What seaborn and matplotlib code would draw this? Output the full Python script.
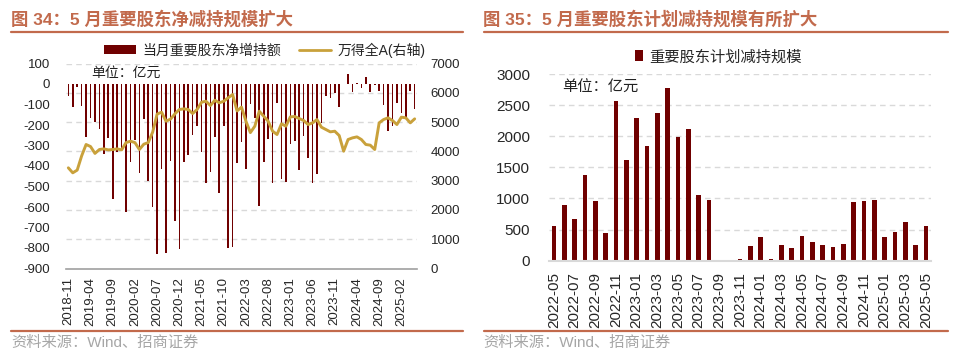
import numpy as np
import pandas as pd
import matplotlib
matplotlib.use("Agg")
import matplotlib.pyplot as plt
import seaborn as sns
from matplotlib.patches import Patch
from matplotlib.lines import Line2D

sns.set_theme(style="white")
plt.rcParams['font.family'] = ['Liberation Sans', 'Noto Sans CJK SC']
plt.rcParams['axes.unicode_minus'] = False

# ---------------- data ----------------
left_months = list(pd.period_range('2018-11', '2025-05', freq='M').strftime('%Y-%m'))
net_change = [-57, -110, -13, -107, -260, -167, -183, -220, -340, -264,
              -560, -333, -329, -625, -380, -272, -434, -170, -474, -599,
              -830, -417, -822, -374, -666, -806, -382, -348, -251, -203,
              -330, -485, -430, -259, -531, -207, -802, -797, -385, -285,
              -414, -98, -167, -595, -382, -269, -482, -91, -465, -479,
              -292, -280, -421, -252, -363, -482, -441, -191, -57, -70,
              -45, -110, -2, 47, -38, 4, -18, 33, -38, -4,
              -36, -100, -231, -207, -94, -142, -170, -35, -123]
wind_a = [3438, 3267, 3360, 3845, 4234, 4165, 3930, 4063, 4086, 4050,
          4063, 4086, 4050, 4300, 4347, 4300, 4063, 4245, 4300, 4660,
          5275, 5337, 5030, 5100, 5280, 5429, 5452, 5429, 5292, 5429,
          5678, 5712, 5565, 5746, 5657, 5712, 5828, 5941, 5380, 5510,
          5030, 4640, 4860, 5370, 5200, 5030, 4690, 4575, 4939, 4860,
          5178, 5190, 5120, 5053, 4916, 4973, 5087, 4825, 4746, 4666,
          4688, 4541, 4006, 4404, 4461, 4495, 4404, 4234, 4211, 4063,
          4973, 5087, 5145, 5053, 4916, 5167, 5145, 4973, 5110]
left_tick_labels = ['2018-11', '2019-04', '2019-09', '2020-02', '2020-07', '2020-12',
                    '2021-05', '2021-10', '2022-03', '2022-08', '2023-01', '2023-06',
                    '2023-11', '2024-04', '2024-09', '2025-02']

right_months = list(pd.period_range('2022-05', '2025-05', freq='M').strftime('%Y-%m'))
plan_reduce = [559, 898, 667, 1376, 952, 446, 2559, 1624, 2296, 1839,
               2366, 2780, 1989, 2118, 1059, 970, 10, 0, 35, 240,
               387, 25, 247, 199, 398, 306, 247, 215, 269, 946,
               962, 978, 382, 462, 629, 247, 559]
right_tick_labels = right_months[::2]

# ---------------- style ----------------
W, H = 959, 359
BAR = '#700000'
GOLD = '#C9A13B'
ACCENT = '#C26A4C'
GRID = '#D9D9D9'
SRC = '#A6A6A6'

fig = plt.figure(figsize=(W / 100, H / 100), dpi=100)
fig.patch.set_facecolor('white')

def fx(px):
    return px / W

def fy(py):
    return 1 - py / H

def box(x0, y0, x1, y1):
    return [fx(x0), fy(y1), (x1 - x0) / W, (y1 - y0) / H]

# ---------------- left panel ----------------
ax = fig.add_axes(box(66.1, 63.5, 416.9, 268.5))
ax.set_facecolor('none')
df_l = pd.DataFrame({'month': left_months, 'value': net_change})
sns.barplot(data=df_l, x='month', y='value', ax=ax, color=BAR, saturation=1,
            width=0.36, order=left_months, zorder=2, linewidth=0, edgecolor='none')
ax.set_xlim(-0.5, len(left_months) - 0.5)
ax.set_ylim(-900, 100)
ax.set_yticks(range(-900, 101, 100))
ax.set_xlabel('')
ax.set_ylabel('')
for s in ['left', 'right', 'top']:
    ax.spines[s].set_visible(False)
ax.spines['bottom'].set_color('#A0A0A0')
ax.spines['bottom'].set_linewidth(1.2)
ax.spines['bottom'].set_position(('data', -900))
lpos = [left_months.index(m) for m in left_tick_labels]
ax.set_xticks(lpos)
ax.set_xticklabels(left_tick_labels, rotation=90, fontsize=9.5)
ax.tick_params(axis='x', direction='out', length=3, width=1, color='#A0A0A0', pad=3.2)
ax.tick_params(axis='y', length=0, pad=11.5, labelsize=9.5)

ax2 = ax.twinx()
sns.lineplot(x=np.arange(len(wind_a)), y=wind_a, ax=ax2, color=GOLD, linewidth=2.1, zorder=3)
ax2.set_ylim(0, 7000)
ax2.set_yticks(range(0, 7001, 1000))
ax2.tick_params(axis='y', length=0, pad=10, labelsize=9.5)
ax2.set_ylabel('')
for s in ax2.spines.values():
    s.set_visible(False)
# gridlines behind bars at right-axis tick levels
for v in range(1000, 7001, 1000):
    ax.axhline(-900 + v * 1000 / 7000, color=GRID, lw=1, ls=(0, (4, 3)), zorder=0.5)

fig.legend(handles=[Patch(facecolor=BAR, edgecolor='none'),
                    Line2D([], [], color=GOLD, lw=2)],
           labels=['当月重要股东净增持额', '万得全A(右轴)'],
           loc='center left', bbox_to_anchor=(fx(104), fy(50)), ncol=2,
           frameon=False, fontsize=10, handlelength=2.3, handleheight=0.6,
           handletextpad=0.45, columnspacing=1.3, borderaxespad=0, borderpad=0)
fig.text(fx(91), fy(73), '单位：亿元', fontsize=10, va='center', ha='left', color='#222222')

# ---------------- right panel ----------------
bx = fig.add_axes(box(548.8, 74, 931.2, 260.7))
df_r = pd.DataFrame({'month': right_months, 'value': plan_reduce})
sns.barplot(data=df_r, x='month', y='value', ax=bx, color=BAR, saturation=1,
            width=0.45, order=right_months, zorder=2, linewidth=0, edgecolor='none')
bx.set_xlim(-0.5, len(right_months) - 0.5)
bx.set_ylim(0, 3000)
bx.set_yticks(range(0, 3001, 500))
bx.set_xlabel('')
bx.set_ylabel('')
bx.set_axisbelow(True)
bx.yaxis.grid(True, color=GRID, lw=1, ls=(0, (4, 3)))
for s in ['left', 'right', 'top']:
    bx.spines[s].set_visible(False)
bx.spines['bottom'].set_color(GRID)
bx.spines['bottom'].set_linewidth(1.5)
rpos = [right_months.index(m) for m in right_tick_labels]
bx.set_xticks(rpos)
bx.set_xticklabels(right_tick_labels, rotation=90, fontsize=11)
bx.tick_params(axis='x', length=0, pad=8)
bx.tick_params(axis='y', length=0, pad=13.5, labelsize=11)

fig.legend(handles=[Patch(facecolor=BAR, edgecolor='none')],
           labels=['重要股东计划减持规模'],
           loc='center left', bbox_to_anchor=(fx(635), fy(57)), frameon=False,
           fontsize=11, handlelength=0.5, handleheight=0.75, handletextpad=0.45,
           borderaxespad=0, borderpad=0)
fig.text(fx(562), fy(88), '单位：亿元', fontsize=11, va='center', ha='left', color='#222222')

# ---------------- titles, rules, sources ----------------
fig.text(fx(11), fy(19), '图 34：5 月重要股东净减持规模扩大', fontsize=12.5,
         fontweight='bold', color=ACCENT, va='center', ha='left')
fig.text(fx(483), fy(19), '图 35：5 月重要股东计划减持规模有所扩大', fontsize=12.5,
         fontweight='bold', color=ACCENT, va='center', ha='left')
for x0, x1 in [(11, 463), (484, 948)]:
    fig.add_artist(Line2D([fx(x0), fx(x1)], [fy(31.7)] * 2, color=ACCENT, lw=1.6))
    fig.add_artist(Line2D([fx(x0), fx(x1)], [fy(331)] * 2, color=ACCENT, lw=1.6))
fig.text(fx(11), fy(343), '资料来源：Wind、招商证券', fontsize=11, color=SRC,
         va='center', ha='left')
fig.text(fx(483), fy(343), '资料来源：Wind、招商证券', fontsize=11, color=SRC,
         va='center', ha='left')

fig.savefig('out.png', dpi=100, facecolor='white')
